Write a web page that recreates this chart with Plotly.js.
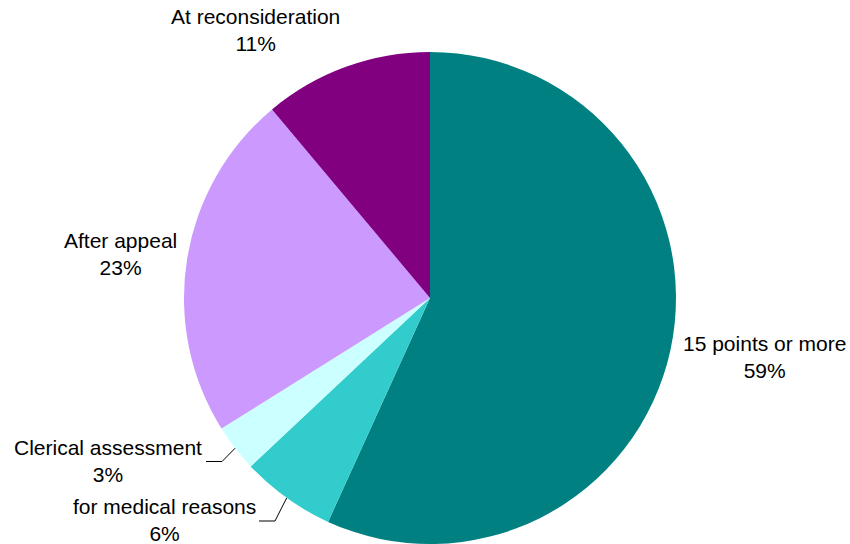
<!DOCTYPE html>
<html>
<head>
<meta charset="utf-8">
<script src="https://cdn.plot.ly/plotly-3.0.1.min.js"></script>
<style>html,body{margin:0;padding:0;background:#fff;}#chart{width:850px;height:544px;}</style>
</head>
<body>
<div id="chart"></div>
<script>
// Categories, in clockwise order from 12 o'clock
const categories = ["15 points or more", "for medical reasons", "Clerical assessment", "After appeal", "At reconsideration"];
// Slice sizes
const values = [56.8, 6.2, 3.1, 22.8, 11.1];
// Percentages as printed on the chart labels
const printedPercents = ["59%", "6%", "3%", "23%", "11%"];
const colors = ["#008080", "#33CCCC", "#CCFFFF", "#CC99FF", "#800080"];

// ---- layout configuration (pixels) ----
const W = 850, H = 544;
const M = {l: 184, r: 174, t: 52, b: 0};
const plotW = W - M.l - M.r, plotH = H - M.t - M.b;
const cx = M.l + plotW / 2, cy = M.t + plotH / 2, R = Math.min(plotW, plotH) / 2;
// label block centres (layout), leader-line elbow/end points (layout)
const labelCenters = [[764, 357], [164, 520], [107.5, 461], [120, 254], [255, 30]];
const leaders = {1: {elbow: [275, 521], end: [259, 521]}, 2: {elbow: [222, 461.5], end: [206, 461.5]}};

function px(x) { return (x - M.l) / plotW; }
function py(y) { return (H - M.b - y) / plotH; }

const total = values.reduce((a, b) => a + b, 0);
let cum = 0;
const annotations = [], shapes = [];
values.forEach((v, i) => {
  const mid = (cum + v / 2) / total * 2 * Math.PI;
  cum += v;
  annotations.push({
    xref: "paper", yref: "paper",
    x: px(labelCenters[i][0]), y: py(labelCenters[i][1]),
    xanchor: "center", yanchor: "middle", align: "center",
    showarrow: false,
    text: categories[i] + "<br>" + printedPercents[i],
    font: {family: "Liberation Sans, Arial, sans-serif", size: 21, color: "#000"}
  });
  if (leaders[i]) {
    const ex = cx + R * Math.sin(mid), ey = cy - R * Math.cos(mid);
    const L = leaders[i];
    shapes.push({
      type: "path", xref: "paper", yref: "paper",
      path: "M" + px(ex) + "," + py(ey) + " L" + px(L.elbow[0]) + "," + py(L.elbow[1]) + " L" + px(L.end[0]) + "," + py(L.end[1]),
      line: {color: "#000", width: 1}
    });
  }
});

const trace = {
  type: "pie",
  labels: categories,
  values: values,
  text: printedPercents,
  textinfo: "none",
  sort: false,
  direction: "clockwise",
  rotation: 0,
  marker: {colors: colors, line: {width: 0}},
  hoverinfo: "label+text",
  showlegend: false
};

const layout = {
  width: W, height: H,
  margin: M,
  paper_bgcolor: "#fff",
  plot_bgcolor: "#fff",
  showlegend: false,
  annotations: annotations,
  shapes: shapes
};

Plotly.newPlot("chart", [trace], layout, {displayModeBar: false, staticPlot: true});
</script>
</body>
</html>
